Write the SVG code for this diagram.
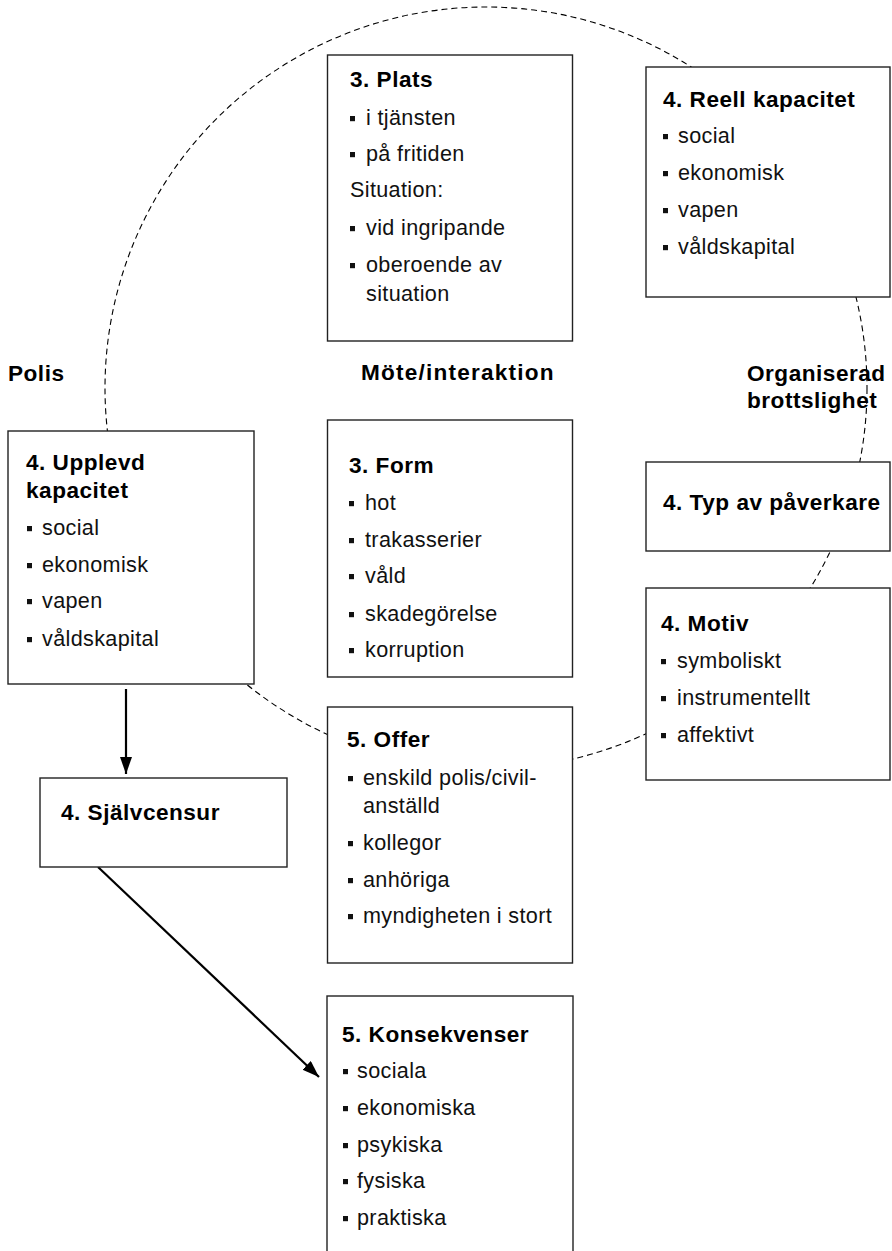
<svg xmlns="http://www.w3.org/2000/svg" width="892" height="1251" viewBox="0 0 892 1251">
<style>
.box{fill:#fff;stroke:#222;stroke-width:1.4}
.h{font-family:"Liberation Sans",Arial,sans-serif;font-weight:bold;font-size:22.6px;letter-spacing:0.5px;fill:#000}
.b{font-family:"Liberation Sans",Arial,sans-serif;font-size:21.6px;letter-spacing:0.35px;fill:#111}
.circ{fill:none;stroke:#000;stroke-width:1.1;stroke-dasharray:6 4}
.arr{fill:none;stroke:#000;stroke-width:2.2}
.bl{fill:#111}
</style>
<defs>
<marker id="ah" markerUnits="userSpaceOnUse" markerWidth="18" markerHeight="13" refX="17" refY="6" orient="auto">
<path d="M0,0 L17,6 L0,12 z" fill="#000"/>
</marker>
<rect id="bul" width="5" height="5.2" class="bl"/>
</defs>
<rect width="892" height="1251" fill="#fff"/>
<g id="connectors">
<circle class="circ" cx="486" cy="388" r="381"/>
<line class="arr" x1="126" y1="689" x2="126" y2="774" marker-end="url(#ah)"/>
<line class="arr" x1="98" y1="867" x2="319" y2="1077" marker-end="url(#ah)"/>
</g>
<g id="labels">
<text class="h" x="8" y="381">Polis</text>
<text class="h" x="361" y="380" style="letter-spacing:1.2px">Möte/interaktion</text>
<text class="h" x="747" y="381">Organiserad</text>
<text class="h" x="747" y="408">brottslighet</text>
</g>
<g id="plats">
<rect class="box" x="327.5" y="55" width="245" height="286"/>
<text class="h" x="350" y="87">3. Plats</text>
<use href="#bul" x="350" y="116"/><text class="b" x="366" y="125">i tjänsten</text>
<use href="#bul" x="350" y="152"/><text class="b" x="366" y="161">på fritiden</text>
<text class="b" x="350" y="197">Situation:</text>
<use href="#bul" x="350" y="226"/><text class="b" x="366" y="235">vid ingripande</text>
<use href="#bul" x="350" y="263"/><text class="b" x="366" y="272">oberoende av</text>
<text class="b" x="366" y="301">situation</text>
</g>
<g id="reell">
<rect class="box" x="646" y="67" width="244" height="230"/>
<text class="h" x="663" y="107">4. Reell kapacitet</text>
<use href="#bul" x="663" y="134"/><text class="b" x="678" y="143">social</text>
<use href="#bul" x="663" y="171"/><text class="b" x="678" y="180">ekonomisk</text>
<use href="#bul" x="663" y="208"/><text class="b" x="678" y="217">vapen</text>
<use href="#bul" x="663" y="245"/><text class="b" x="678" y="254">våldskapital</text>
</g>
<g id="upplevd">
<rect class="box" x="8" y="431" width="246" height="253"/>
<text class="h" x="26" y="470">4. Upplevd</text>
<text class="h" x="26" y="498">kapacitet</text>
<use href="#bul" x="27" y="526"/><text class="b" x="42" y="535">social</text>
<use href="#bul" x="27" y="563"/><text class="b" x="42" y="572">ekonomisk</text>
<use href="#bul" x="27" y="599"/><text class="b" x="42" y="608">vapen</text>
<use href="#bul" x="27" y="637"/><text class="b" x="42" y="646">våldskapital</text>
</g>
<g id="form">
<rect class="box" x="327.5" y="420" width="245" height="257"/>
<text class="h" x="349" y="473">3. Form</text>
<use href="#bul" x="349" y="501"/><text class="b" x="365" y="510">hot</text>
<use href="#bul" x="349" y="538"/><text class="b" x="365" y="547">trakasserier</text>
<use href="#bul" x="349" y="574"/><text class="b" x="365" y="583">våld</text>
<use href="#bul" x="349" y="612"/><text class="b" x="365" y="621">skadegörelse</text>
<use href="#bul" x="349" y="648"/><text class="b" x="365" y="657">korruption</text>
</g>
<g id="typ">
<rect class="box" x="646" y="462" width="244" height="89"/>
<text class="h" x="663" y="510">4. Typ av påverkare</text>
</g>
<g id="motiv">
<rect class="box" x="646" y="588" width="244" height="192"/>
<text class="h" x="661" y="631">4. Motiv</text>
<use href="#bul" x="661" y="659"/><text class="b" x="677" y="668">symboliskt</text>
<use href="#bul" x="661" y="696"/><text class="b" x="677" y="705">instrumentellt</text>
<use href="#bul" x="661" y="733"/><text class="b" x="677" y="742">affektivt</text>
</g>
<g id="offer">
<rect class="box" x="327.5" y="707" width="245" height="256"/>
<text class="h" x="347" y="747">5. Offer</text>
<use href="#bul" x="348" y="776"/><text class="b" x="363" y="785">enskild polis/civil-</text>
<text class="b" x="363" y="813">anställd</text>
<use href="#bul" x="348" y="841"/><text class="b" x="363" y="850">kollegor</text>
<use href="#bul" x="348" y="878"/><text class="b" x="363" y="887">anhöriga</text>
<use href="#bul" x="348" y="914"/><text class="b" x="363" y="923">myndigheten i stort</text>
</g>
<g id="sjalvcensur">
<rect class="box" x="40" y="778" width="247" height="89"/>
<text class="h" x="61" y="820">4. Självcensur</text>
</g>
<g id="konsekvenser">
<rect class="box" x="327" y="996" width="246" height="270"/>
<text class="h" x="342" y="1042">5. Konsekvenser</text>
<use href="#bul" x="343" y="1069"/><text class="b" x="357" y="1078">sociala</text>
<use href="#bul" x="343" y="1106"/><text class="b" x="357" y="1115">ekonomiska</text>
<use href="#bul" x="343" y="1143"/><text class="b" x="357" y="1152">psykiska</text>
<use href="#bul" x="343" y="1179"/><text class="b" x="357" y="1188">fysiska</text>
<use href="#bul" x="343" y="1216"/><text class="b" x="357" y="1225">praktiska</text>
</g>
</svg>
